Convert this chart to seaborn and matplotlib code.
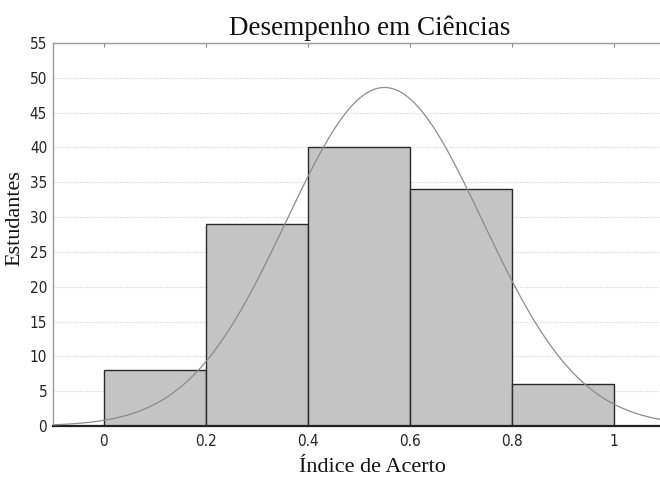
import numpy as np
import pandas as pd
import matplotlib
matplotlib.use("Agg")
import matplotlib.pyplot as plt
import seaborn as sns

# Data
bin_edges = [0.0, 0.2, 0.4, 0.6, 0.8, 1.0]
counts = [8, 29, 40, 34, 6]
fit_mean = 0.55
fit_sd = 0.192
x_ticks = [0, 0.2, 0.4, 0.6, 0.8, 1]
x_tick_labels = ["0", "0.2", "0.4", "0.6", "0.8", "1"]
y_ticks = list(range(0, 56, 5))

title = "Desempenho em Ciências"
xlabel = "Índice de Acerto"
ylabel = "Estudantes"

sns.set_theme(style="white")
plt.rcParams["font.family"] = ["DejaVu Sans"]

centers = [(a + b) / 2 for a, b in zip(bin_edges[:-1], bin_edges[1:])]
df = pd.DataFrame({"x": centers, "n": counts})

fig = plt.figure(figsize=(6.6, 4.84), dpi=100)
ax = fig.add_axes([0.080, 0.120, 0.920, 0.791])

sns.histplot(data=df, x="x", weights="n", bins=bin_edges, ax=ax,
             color="#c4c4c4", edgecolor="#2a2a2a", linewidth=1.0,
             alpha=1.0, zorder=2)

# fitted normal curve (scaled to counts)
n_total = sum(counts)
width = bin_edges[1] - bin_edges[0]
xs = np.linspace(-0.1, 1.1, 400)
ys = n_total * width / (fit_sd * np.sqrt(2 * np.pi)) * np.exp(-0.5 * ((xs - fit_mean) / fit_sd) ** 2)
sns.lineplot(x=xs, y=ys, ax=ax, color="#8c8c8c", linewidth=0.9, zorder=3)

ax.set_xlim(-0.1, 1.09)
ax.set_ylim(0, 55)
ax.set_xticks(x_ticks)
ax.set_xticklabels(x_tick_labels)
ax.set_yticks(y_ticks)

ax.yaxis.grid(True, color="#d8d8d8", linestyle=(0, (1, 1)), linewidth=0.8, zorder=0)
ax.xaxis.grid(False)
ax.set_axisbelow(True)

tick_font = ["Liberation Sans Narrow", "DejaVu Sans"]
for lab in ax.get_xticklabels() + ax.get_yticklabels():
    lab.set_family(tick_font)
    lab.set_stretch("condensed")
    lab.set_fontsize(11)
    lab.set_color("#222222")
ax.tick_params(axis="x", length=3, width=0.8, color="#888888", pad=6,
               direction="in", top=True)
ax.tick_params(axis="y", length=3, width=0.8, color="#888888", pad=4,
               direction="in")

for s in ["top", "left"]:
    ax.spines[s].set_color("#9a9a9a")
    ax.spines[s].set_linewidth(1.0)
ax.spines["right"].set_visible(False)
ax.spines["bottom"].set_color("#222222")
ax.spines["bottom"].set_linewidth(1.6)

serif = ["Liberation Serif", "DejaVu Serif"]
ax.set_title(title, family=serif, fontsize=19.5, color="#111111", pad=6,
             x=0.522)
ax.set_xlabel(xlabel, family=serif, fontsize=16, color="#111111", labelpad=6)
ax.xaxis.set_label_coords(0.526, -0.085)
ax.set_ylabel(ylabel, family=serif, fontsize=16, color="#111111")
ax.yaxis.set_label_coords(-0.046, 0.542)

fig.savefig("out.png", dpi=100)
